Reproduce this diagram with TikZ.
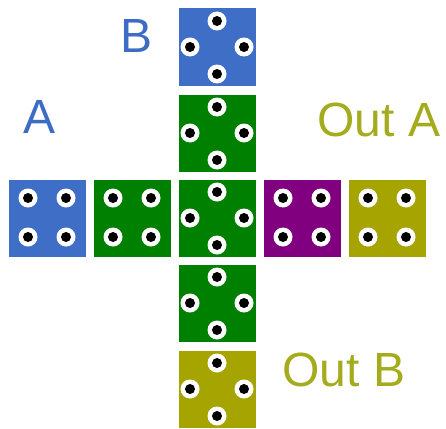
\documentclass[tikz,border=0pt]{standalone}
\usepackage{fontspec}
\setmainfont{Liberation Sans}
\usetikzlibrary{calc}
\definecolor{tileblue}{RGB}{62,110,198}
\definecolor{tilegreen}{RGB}{0,128,0}
\definecolor{tilepurple}{RGB}{128,0,128}
\definecolor{tileolive}{RGB}{166,164,0}
\definecolor{txtblue}{RGB}{62,108,196}
\definecolor{txtolive}{RGB}{164,172,30}

\begin{document}
\begin{tikzpicture}[
    x=1pt, y=-1pt,
    tile/.style={rectangle, minimum size=77pt, inner sep=0pt},
    lbl/.style={font=\fontsize{48}{48}\selectfont, inner sep=0pt}
]
\useasboundingbox (0,0) rectangle (446,428);

% Row of tiles
\node[tile, fill=tileblue]   (inA)  at (47,218)  {};
\node[tile, fill=tilegreen]  (gw)   at (132,218) {};
\node[tile, fill=tilegreen]  (ctr)  at (217,218) {};
\node[tile, fill=tilepurple] (pur)  at (302,218) {};
\node[tile, fill=tileolive]  (outA) at (387,218) {};

% Column of tiles
\node[tile, fill=tileblue]   (inB)  at (217,47)  {};
\node[tile, fill=tilegreen]  (gn)   at (217,133) {};
\node[tile, fill=tilegreen]  (gs)   at (217,303) {};
\node[tile, fill=tileolive]  (outB) at (217,389) {};

% Pips: four in a square
\foreach \t in {inA,gw,pur,outA}
  \foreach \dx/\dy in {-19/-20, 19/-20, -19/19, 19/19} {
    \fill[white] ($(\t.center)+(\dx,\dy)$) circle (9.5pt);
    \fill[black] ($(\t.center)+(\dx,\dy)$) circle (5pt);
  }

% Pips: four in a diamond
\foreach \t in {inB,gn,ctr,gs,outB}
  \foreach \dx/\dy in {0/-26, -27/0, 27/0, 0/27} {
    \fill[white] ($(\t.center)+(\dx,\dy)$) circle (9.5pt);
    \fill[black] ($(\t.center)+(\dx,\dy)$) circle (5pt);
  }

% Labels
\node[lbl, text=txtblue]  (labA)    at (40,117)  {A};
\node[lbl, text=txtblue]  (labB)    at (137,36)  {B};
\node[lbl, text=txtolive] (labOutA) at (379,120) {Out A};
\node[lbl, text=txtolive] (labOutB) at (344,370) {Out B};

\end{tikzpicture}
\end{document}
